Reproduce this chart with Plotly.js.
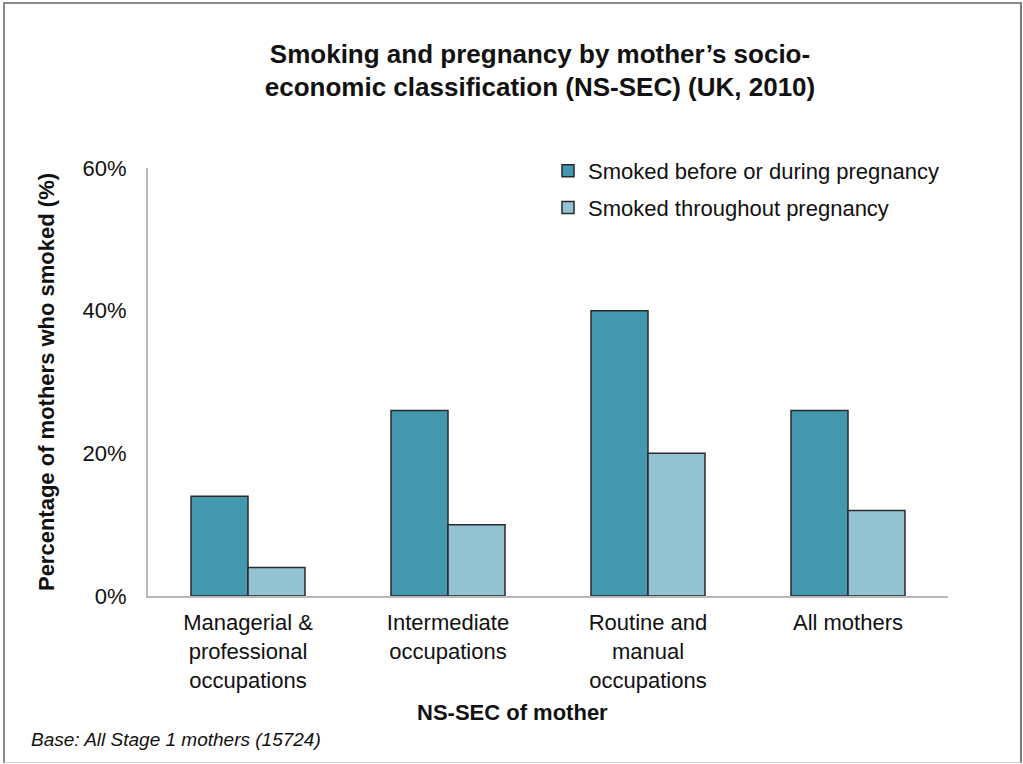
<!DOCTYPE html>
<html>
<head>
<meta charset="utf-8">
<script src="https://cdn.plot.ly/plotly-3.0.1.min.js"></script>
<style>
html,body{margin:0;padding:0;background:#fff;}
#chart{width:1023px;height:764px;}
#frame{position:absolute;left:3px;top:2px;width:1019px;height:761px;box-sizing:border-box;
border-left:2px solid #8a8a8a;border-top:2px solid #8a8a8a;border-right:2px solid #7a7a7a;border-bottom:1px solid #cfcfcf;pointer-events:none;}
</style>
</head>
<body>
<div id="chart"></div>
<div id="frame"></div>
<script>
const categories = [
  "Managerial &<br>professional<br>occupations",
  "Intermediate<br>occupations",
  "Routine and<br>manual<br>occupations",
  "All mothers"
];
const seriesNames = ["Smoked before or during pregnancy", "Smoked throughout pregnancy"];
const beforeOrDuring = [14, 26, 40, 26];
const throughout = [4, 10, 20, 12];
const yTickVals = [0, 20, 40, 60];
const yTickText = ["0%", "20%", "40%", "60%"];

const FONT = "Liberation Sans, Arial, sans-serif";

const traces = [
  {
    type: "bar", name: seriesNames[0], x: categories, y: beforeOrDuring,
    legendgroup: "a",
    marker: {color: "#4397AF", line: {color: "#2a2a2a", width: 1.5}},
    hoverinfo: "skip"
  },
  {
    type: "bar", name: seriesNames[1], x: categories, y: throughout,
    legendgroup: "b",
    marker: {color: "#94C3D4", line: {color: "#2a2a2a", width: 1.5}},
    hoverinfo: "skip"
  }
];

const layout = {
  width: 1023, height: 764,
  margin: {l: 148, r: 75, t: 168, b: 168},
  paper_bgcolor: "#fff", plot_bgcolor: "#fff",
  font: {family: FONT, size: 22, color: "#111"},
  barmode: "group",
  bargap: 0.43,
  bargroupgap: 0,
  showlegend: true,
  legend: {
    x: 0.5, y: 1.042, xanchor: "left", yanchor: "top",
    font: {family: FONT, size: 22, color: "#111"},
    tracegroupgap: 5,
    bgcolor: "rgba(0,0,0,0)"
  },
  title: {
    text: "<b>Smoking and pregnancy by mother’s socio-<br>economic classification (NS-SEC) (UK, 2010)</b>",
    font: {family: FONT, size: 26, color: "#111"},
    x: 0.49, xref: "paper", xanchor: "center",
    y: 0.918, yref: "container", yanchor: "top"
  },
  xaxis: {
    type: "category",
    range: [-0.5, 3.5],
    showline: true, linecolor: "#b8b8b8", linewidth: 2,
    showgrid: false, zeroline: false, ticks: "",
    ticklabelstandoff: 6,
    tickfont: {family: FONT, size: 22, color: "#111"}
  },
  yaxis: {
    range: [0, 60],
    tickvals: yTickVals, ticktext: yTickText,
    showline: true, linecolor: "#b8b8b8", linewidth: 2,
    showgrid: false, zeroline: false, ticks: "",
    ticklabelstandoff: 15,
    tickfont: {family: FONT, size: 22, color: "#111"},
    title: {text: "<b>Percentage of mothers who smoked (%)</b>", font: {family: FONT, size: 22, color: "#111"}, standoff: 22}
  },
  annotations: [
    {
      text: "<b>NS-SEC of mother</b>",
      xref: "paper", yref: "paper",
      x: 0.455, y: -0.273, xanchor: "center", yanchor: "middle",
      showarrow: false,
      font: {family: FONT, size: 22, color: "#111"}
    },
    {
      text: "<i>Base: All Stage 1 mothers (15724)</i>",
      xref: "paper", yref: "paper",
      x: -0.1485, y: -0.335, xanchor: "left", yanchor: "middle",
      showarrow: false,
      font: {family: FONT, size: 19, color: "#111"}
    }
  ]
};

Plotly.newPlot("chart", traces, layout, {displayModeBar: false, staticPlot: true});
</script>
</body>
</html>
